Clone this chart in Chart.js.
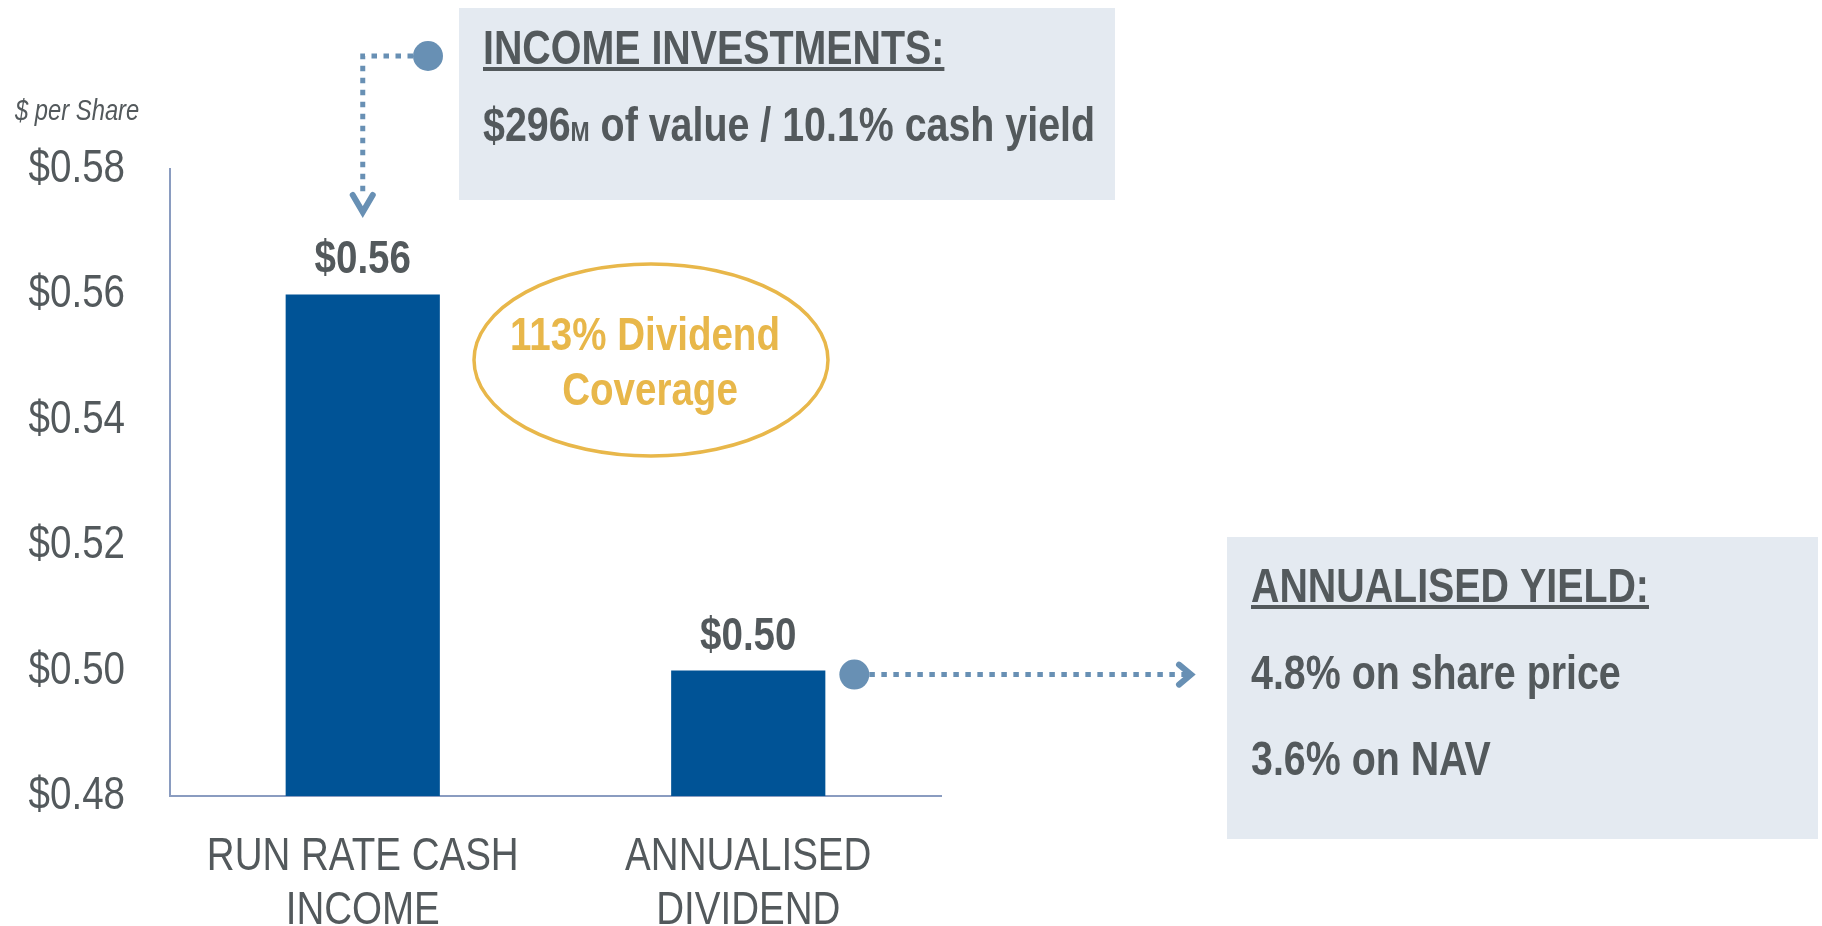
<!DOCTYPE html>
<html>
<head>
<meta charset="utf-8">
<script src="https://cdn.jsdelivr.net/npm/chart.js@4.4.1/dist/chart.umd.min.js"></script>
<style>
  html, body { margin: 0; padding: 0; background: #ffffff; }
  #wrap { position: relative; width: 1822px; height: 926px; }
</style>
</head>
<body>
<div id="wrap"><canvas id="chart" width="1822" height="926"></canvas></div>
<script>
// Per-share figures
const categories = [["RUN RATE CASH", "INCOME"], ["ANNUALISED", "DIVIDEND"]];
const perShare = [0.56, 0.50];
const yTicks = [0.48, 0.50, 0.52, 0.54, 0.56, 0.58];
const unitLabel = "$ per Share";
const coverageLines = ["113% Dividend", "Coverage"];
const incomeTitle = "INCOME INVESTMENTS:";
const incomeParts = ["$296", "M", " of value / 10.1% cash yield"];
const yieldTitle = "ANNUALISED YIELD:";
const yieldLines = ["4.8% on share price", "3.6% on NAV"];

const money = v => "$" + Number(v).toFixed(2);

const FONT = "'Liberation Sans', Arial, sans-serif";
const NARROW = 0.82;          // horizontal squeeze giving a narrow face
const GREY = "#53595c";
const BAR = "#005396";
const AXIS = "#8a9cc0";
const BOX = "#e4eaf1";
const LINK = "#6890b4";
const GOLD = "#e8b74a";

const canvas = document.getElementById("chart");
const ctx0 = canvas.getContext("2d");
// Every string on this canvas is drawn horizontally condensed around its anchor.
const rawFill = ctx0.fillText.bind(ctx0);
ctx0.fillText = function (text, x, y) {
  this.save();
  this.translate(x, y);
  this.scale(NARROW, 1);
  rawFill(text, 0, 0);
  this.restore();
};
const rawMeasure = ctx0.measureText.bind(ctx0);
ctx0.measureText = function (text) {
  const m = rawMeasure(text);
  return {
    width: m.width * NARROW,
    actualBoundingBoxAscent: m.actualBoundingBoxAscent,
    actualBoundingBoxDescent: m.actualBoundingBoxDescent,
    actualBoundingBoxLeft: m.actualBoundingBoxLeft * NARROW,
    actualBoundingBoxRight: m.actualBoundingBoxRight * NARROW,
    fontBoundingBoxAscent: m.fontBoundingBoxAscent,
    fontBoundingBoxDescent: m.fontBoundingBoxDescent
  };
};

function dotted(ctx, pts) {
  ctx.save();
  ctx.strokeStyle = LINK;
  ctx.lineWidth = 5;
  ctx.setLineDash([5.5, 6.5]);
  ctx.lineCap = "butt";
  ctx.beginPath();
  ctx.moveTo(pts[0][0], pts[0][1]);
  for (let i = 1; i < pts.length; i++) ctx.lineTo(pts[i][0], pts[i][1]);
  ctx.stroke();
  ctx.restore();
}
function chevron(ctx, tip, a, b) {
  ctx.save();
  ctx.strokeStyle = LINK;
  ctx.lineWidth = 6;
  ctx.lineCap = "round";
  ctx.lineJoin = "miter";
  ctx.beginPath();
  ctx.moveTo(a[0], a[1]);
  ctx.lineTo(tip[0], tip[1]);
  ctx.lineTo(b[0], b[1]);
  ctx.stroke();
  ctx.restore();
}
function dot(ctx, x, y) {
  ctx.save();
  ctx.fillStyle = LINK;
  ctx.beginPath();
  ctx.arc(x, y, 15, 0, Math.PI * 2);
  ctx.fill();
  ctx.restore();
}
function underlined(ctx, text, x, y, size) {
  ctx.font = "bold " + size + "px " + FONT;
  ctx.fillText(text, x, y);
  const w = ctx.measureText(text).width;
  ctx.fillRect(x, y + 3, w, 4);
}

const annotations = {
  id: "annotations",
  afterDraw(chart) {
    const ctx = chart.ctx;
    const bars = chart.getDatasetMeta(0).data;
    ctx.save();
    ctx.fillStyle = GREY;
    ctx.textBaseline = "alphabetic";

    // unit caption
    ctx.textAlign = "left";
    ctx.font = "italic 29px " + FONT;
    ctx.fillText(unitLabel, 15, 120);

    // value labels above bars
    ctx.textAlign = "center";
    ctx.font = "bold 47px " + FONT;
    bars.forEach((b, i) => ctx.fillText(money(perShare[i]), b.x, b.y - 21));

    // coverage ellipse
    ctx.save();
    ctx.strokeStyle = GOLD;
    ctx.lineWidth = 3.5;
    ctx.beginPath();
    ctx.ellipse(651, 360, 177, 96, 0, 0, Math.PI * 2);
    ctx.stroke();
    ctx.fillStyle = GOLD;
    ctx.font = "bold 47px " + FONT;
    ctx.fillText(coverageLines[0], 645, 350);
    ctx.fillText(coverageLines[1], 650, 405);
    ctx.restore();

    // income investments box
    ctx.fillStyle = BOX;
    ctx.fillRect(459, 8, 656, 192);
    ctx.fillStyle = GREY;
    ctx.textAlign = "left";
    underlined(ctx, incomeTitle, 483, 64, 48);
    let x = 483;
    ctx.font = "bold 48px " + FONT;
    ctx.fillText(incomeParts[0], x, 141);
    x += ctx.measureText(incomeParts[0]).width;
    ctx.font = "bold 28px " + FONT;
    ctx.fillText(incomeParts[1], x, 141);
    x += ctx.measureText(incomeParts[1]).width;
    ctx.font = "bold 48px " + FONT;
    ctx.fillText(incomeParts[2], x, 141);

    // annualised yield box
    ctx.fillStyle = BOX;
    ctx.fillRect(1227, 537, 591, 302);
    ctx.fillStyle = GREY;
    underlined(ctx, yieldTitle, 1251, 602, 48);
    ctx.font = "bold 48px " + FONT;
    ctx.fillText(yieldLines[0], 1251, 689);
    ctx.fillText(yieldLines[1], 1251, 775);

    // connector: income box -> first bar
    const b0 = bars[0];
    dot(ctx, 428, 56);
    dotted(ctx, [[413, 56], [b0.x, 56], [b0.x, 196]]);
    chevron(ctx, [b0.x, 212], [b0.x - 10, 195], [b0.x + 10, 195]);

    // connector: second bar -> yield box
    const b1 = bars[1];
    const cy = b1.y + 4;
    dot(ctx, b1.x + b1.width / 2 + 29, cy);
    dotted(ctx, [[b1.x + b1.width / 2 + 44, cy], [1188, cy]]);
    chevron(ctx, [1191, cy], [1179, cy - 10], [1179, cy + 10]);
    ctx.restore();
  }
};

new Chart(canvas, {
  type: "bar",
  data: {
    labels: categories,
    datasets: [{
      data: perShare,
      backgroundColor: BAR,
      borderWidth: 0,
      barPercentage: 0.4,
      categoryPercentage: 1
    }]
  },
  options: {
    responsive: false,
    animation: false,
    events: [],
    layout: { padding: { top: 169, right: 881, left: 0, bottom: 0 } },
    plugins: { legend: { display: false }, tooltip: { enabled: false } },
    scales: {
      x: {
        grid: { display: false, drawTicks: false },
        border: { display: true, color: AXIS, width: 2 },
        ticks: { color: GREY, font: { family: FONT, size: 47, lineHeight: 1.15 }, padding: 34, maxRotation: 0, autoSkip: false },
        afterFit(s) { s.height = 130; }
      },
      y: {
        min: 0.48, max: 0.58,
        afterBuildTicks(s) { s.ticks = yTicks.map(v => ({ value: v })); },
        grid: { display: false, drawTicks: false },
        border: { display: true, color: AXIS, width: 2 },
        ticks: {
          color: GREY, padding: 45,
          font: { family: FONT, size: 47 },
          callback: v => money(v)
        },
        afterFit(s) { s.width = 170; s.paddingTop = 0; s.paddingBottom = 0; }
      }
    }
  },
  plugins: [annotations]
});
</script>
</body>
</html>
